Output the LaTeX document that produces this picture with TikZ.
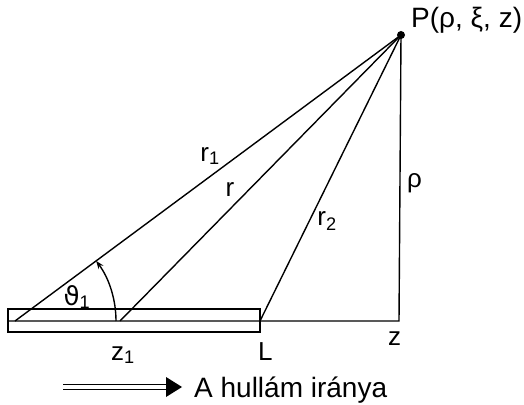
\documentclass[tikz,border=0pt]{standalone}
\usepackage{fontspec}
\setmainfont{Liberation Sans}
\newfontfamily\dv{DejaVu Sans}
\usetikzlibrary{arrows.meta}
\begin{document}
\begin{tikzpicture}[x=1pt,y=1pt,
  ln/.style={line width=1.4pt},
  lbl/.style={inner sep=0pt,font=\fontsize{26}{30}\selectfont},
  big/.style={inner sep=0pt,font=\fontsize{28}{33}\selectfont}]
\useasboundingbox (0,0) rectangle (524,404);
% points
\coordinate (P) at (401,369);
\coordinate (Z) at (399,83);
\coordinate (A) at (15,83);
\coordinate (Z1) at (120,83);
\coordinate (L) at (260,83);
\coordinate (R0) at (8,83);
% rod
\draw[line width=2pt] (8,72) rectangle (260,95);
\draw[ln] (R0) -- (Z) -- (P);
\draw[ln] (P) -- (A);
\draw[ln] (P) -- (Z1);
\draw[ln] (P) -- (L);
\fill (P) circle (4);
% angle arc
\draw[ln,-{Stealth[length=8pt,width=6pt]}] ([shift={(0:101)}]A) arc (0:36.5:101);
% labels
\node[big,anchor=west] (Plab) at (411,384) {P(ρ, ξ, z)};
\node[lbl,anchor=west] (rho) at (407,221) {ρ};
\node[lbl] (r1) at (210,248) {r\textsubscript{1}};
\node[lbl] (r) at (230,214) {r};
\node[lbl] (r2) at (327,183) {r\textsubscript{2}};
\node[lbl] (th) at (77,107) {{\dv ϑ}\textsubscript{1}};
\node[lbl,anchor=base west] (z1lab) at (111,44) {z\textsubscript{1}};
\node[lbl,anchor=base west] (Llab) at (258,44) {L};
\node[lbl,anchor=base west] (zlab) at (388,59) {z};
% direction arrow
\coordinate (a0) at (63,17);
\coordinate (a1) at (168,17);
\draw[line width=1pt,double,double distance=4.5pt] (a0) -- (a1);
\fill (166,27) -- (182,17) -- (166,7) -- cycle;
\node[big,anchor=base west] (dir) at (194,7) {A hullám iránya};
\end{tikzpicture}
\end{document}
